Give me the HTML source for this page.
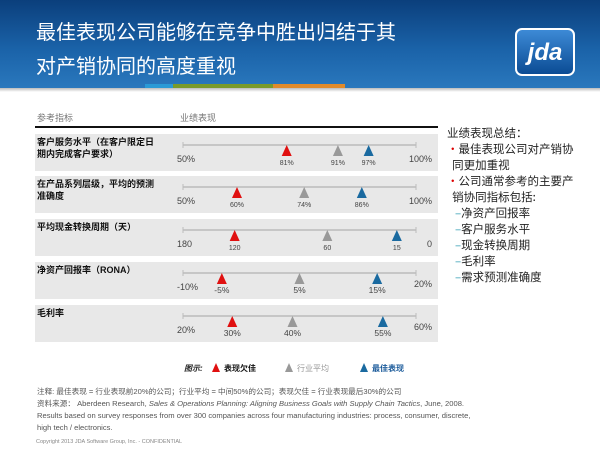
<!DOCTYPE html>
<html><head><meta charset="utf-8"><style>
body{margin:0;width:600px;height:450px;overflow:hidden;background:#fff;font-family:"Liberation Sans","Noto Sans CJK SC",sans-serif;position:relative}
.hdr{position:absolute;left:0;top:0;width:600px;height:88px;background:linear-gradient(180deg,#0b3f7c 0%,#1a62a8 55%,#2a78bd 100%)}
.title{position:absolute;left:36px;top:14px;color:#fff;font-size:20px;line-height:34px;font-family:"Noto Sans CJK SC",sans-serif}
.logo{position:absolute;left:515px;top:28px;width:60px;height:48px;border:2px solid #fff;border-radius:7px;background:linear-gradient(#3d8ad6,#0b4c94);color:#fff;font-weight:bold;font-style:italic;font-size:24px;text-align:center;line-height:46px;box-sizing:border-box}
.strip{position:absolute;top:84px;height:4px}
.sh{position:absolute;left:0;top:88px;width:600px;height:4px;background:linear-gradient(#bbb,#fff)}
.t{position:absolute;white-space:nowrap}
</style></head><body>
<div class="hdr"></div>
<div class="title">最佳表现公司能够在竞争中胜出归结于其<br>对产销协同的高度重视</div>
<div class="logo">jda</div>
<div class="strip" style="left:145px;width:28px;background:#2a9ad6"></div>
<div class="strip" style="left:173px;width:100px;background:#7a9a2a"></div>
<div class="strip" style="left:273px;width:72px;background:#e08a2a"></div>
<div class="sh"></div>

<svg id="chart" width="600" height="450" style="position:absolute;left:0;top:0"></svg>

<div class="t" style="left:447px;top:125px;font-size:11.5px;line-height:16px;color:#222;font-family:'Noto Sans CJK SC',sans-serif">
<div>业绩表现总结：</div>
<div><span style="color:#d00">•</span>最佳表现公司对产销协<br>&nbsp;&nbsp;同更加重视</div>
<div><span style="color:#d00">•</span>公司通常参考的主要产<br>&nbsp;&nbsp;销协同指标包括:</div>
<div style="padding-left:8px">
<div><span style="color:#2a9ab0">–</span>净资产回报率</div>
<div><span style="color:#2a9ab0">–</span>客户服务水平</div>
<div><span style="color:#2a9ab0">–</span>现金转换周期</div>
<div><span style="color:#2a9ab0">–</span>毛利率</div>
<div><span style="color:#2a9ab0">–</span>需求预测准确度</div>
</div></div>

<div class="t" style="left:37px;top:386px;font-size:7.6px;line-height:12px;color:#555">
注释: 最佳表现 = 行业表现前20%的公司；行业平均 = 中间50%的公司；表现欠佳 = 行业表现最后30%的公司<br>
资料来源： Aberdeen Research, <i>Sales &amp; Operations Planning: Aligning Business Goals with Supply Chain Tactics</i>, June, 2008.<br>
Results based on survey responses from over 300 companies across four manufacturing industries: process, consumer, discrete,<br>
high tech / electronics.</div>
<div class="t" style="left:36px;top:439px;font-size:5.5px;color:#888">Copyright 2013 JDA Software Group, Inc. - CONFIDENTIAL</div>

<script>
const metrics=["客户服务水平（在客户限定日期内完成客户要求）","在产品系列层级，平均的预测准确度","平均现金转换周期（天）","净资产回报率（RONA）","毛利率"];
const domainMin=[50,50,180,-10,20];
const domainMax=[100,100,0,20,60];
const minLabels=["50%","50%","180","-10%","20%"];
const maxLabels=["100%","100%","0","20%","60%"];
const laggard=[81,60,120,-5,30];
const average=[91,74,60,5,40];
const best=[97,86,15,15,55];
const unit=["%","%","","%","%"];

const NS="http://www.w3.org/2000/svg";
const svg=document.getElementById('chart');
function mk(tag,attrs,txt){const e=document.createElementNS(NS,tag);for(const k in attrs)e.setAttribute(k,attrs[k]);if(txt!==undefined)e.textContent=txt;svg.appendChild(e);return e;}
const rowTop=[134,176,219,262,305];
const rowH=37;
const X0=183,X1=416;
// per-row pixel range where domainMin/domainMax map (layout only)
const rangeLo=[128,189,142,183,172];
const rangeHi=[384,429,420,416,413];
function xScale(i,v){return rangeLo[i]+(v-domainMin[i])/(domainMax[i]-domainMin[i])*(rangeHi[i]-rangeLo[i]);}

let e;
e=mk('text',{x:37,y:121,'font-size':9,fill:'#777'},'参考指标');


e=mk('text',{x:180,y:121,'font-size':9,fill:'#777'},'业绩表现');


e=mk('rect',{x:35,y:126,width:403,height:2,fill:'#111'});



const colors=['#e01010','#999','#1a6aa0'];
const series=[laggard,average,best];
const sNames=['laggard','average','best'];
metrics.forEach((m,i)=>{
  const top=rowTop[i];
  e=mk('rect',{x:35,y:top,width:403,height:rowH,fill:'#e8e8e8'});
  
  
  const lines=i===0?['客户服务水平（在客户限定日','期内完成客户要求）']:i===1?['在产品系列层级，平均的预测','准确度']:[m];
  lines.forEach((l,j)=>{
    e=mk('text',{x:37,y:top+11+j*12,'font-size':9,'font-weight':'bold',fill:'#111'},l);
    
    
  });
  const ay=top+11;
  e=mk('line',{x1:X0,x2:X1,y1:ay,y2:ay,stroke:'#bbb','stroke-width':1.5});
  
  
  [X0,X1].forEach(x=>{e=mk('line',{x1:x,x2:x,y1:ay-3,y2:ay+3,stroke:'#bbb'});
    
    });
  e=mk('text',{x:177,y:ay+17,'font-size':9,fill:'#444'},minLabels[i]);
  
  
  e=mk('text',{x:432,y:ay+(i>=3?14:17),'font-size':9,fill:'#444','text-anchor':'end'},maxLabels[i]);
  
  
  series.forEach((s,k)=>{
    const x=xScale(i,s[i]);
    e=mk('polygon',{points:`${x-5},${ay+11} ${x+5},${ay+11} ${x},${ay}`,fill:colors[k]});
    
    
    e=mk('text',{x:x,y:ay+20,'font-size':i<3?7:8.5,fill:'#444','text-anchor':'middle'},s[i]+unit[i]);
    
    
  });
});
e=mk('text',{x:184,y:371,'font-size':8,'font-style':'italic','font-weight':'bold',fill:'#222'},'图示:');


const legX=[216,289,364];const legT=['表现欠佳','行业平均','最佳表现'];const legC=['#111','#999','#1a5a9a'];
legX.forEach((x,k)=>{
  e=mk('polygon',{points:`${x-4},${372} ${x+4},${372} ${x},${363}`,fill:colors[k]});
  
  
  e=mk('text',{x:x+8,y:371,'font-size':8,'font-weight':k===1?'normal':'bold',fill:legC[k]},legT[k]);
  
  
});
</script>
</body></html>
